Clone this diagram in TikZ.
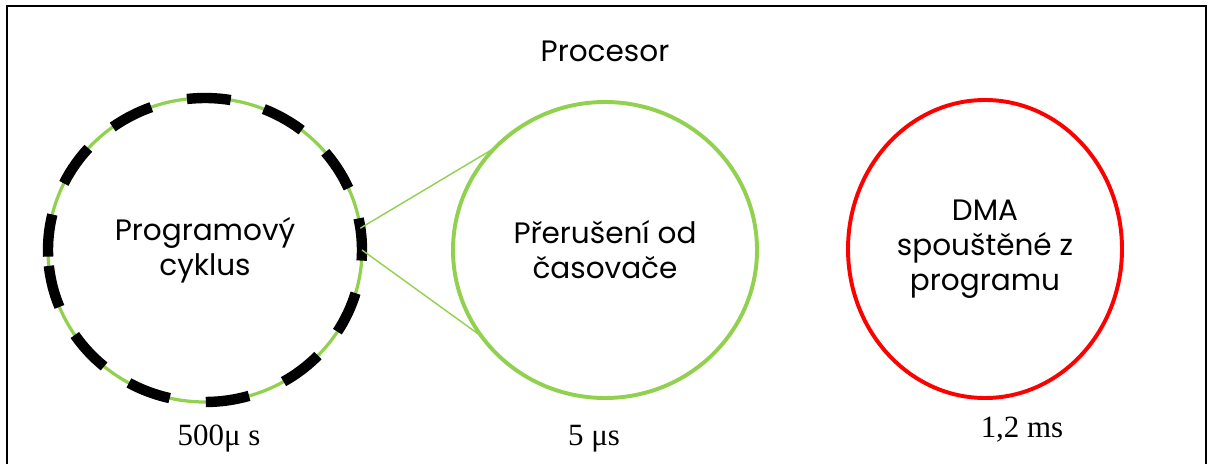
\documentclass[tikz,border=0pt]{standalone}
\usepackage{fontspec}
\setmainfont{Poppins}
\newfontfamily\timesfont{Liberation Serif}
\usetikzlibrary{shapes.geometric}

\definecolor{lightgreen}{RGB}{146,208,80}
\definecolor{alarmred}{RGB}{255,0,0}

\begin{document}
\begin{tikzpicture}[
  phase/.style={ellipse,outer sep=0pt,inner sep=0pt,align=center,
    font=\fontsize{21}{25}\selectfont},
  timing/.style={anchor=base,font=\timesfont\fontsize{22}{26}\selectfont},
  tick/.style={line width=7.4pt,line cap=butt}
]
  % Constants
  \pgfmathsetmacro\rx{3.925}
  \pgfmathsetmacro\ry{3.8}
  % Boundary
  \path[use as bounding box] (0,0) rectangle (30.225,11.6);
  % Frame, open at the bottom
  \draw[line width=1.5pt] (0.175,0) -- (0.175,11.45) -- (30.15,11.45) -- (30.15,0);
  \node[font=\fontsize{21}{25}\selectfont] (cpu) at (15.125,10.32) {Procesor};
  % Phases
  \node[phase,draw=lightgreen,line width=2.3pt,
    minimum width={2*\rx*1cm},minimum height={2*\ry*1cm}] (prog) at (5.125,5.35) {Programový\\cyklus};
  \node[phase,draw=lightgreen,line width=2.8pt,
    minimum width=7.6cm,minimum height=7.4cm] (irq) at (15.125,5.35) {Přerušení od\\časovače};
  \node[phase,draw=alarmred,line width=2.8pt,
    minimum width=6.85cm,minimum height=7.45cm] (dma) at (24.625,5.375) {DMA\\spouštěné z\\programu};
  % Program cycle slices
  \foreach \a in {88.6,60,32,4,-24.5,-52,-81.7,-111,-138,-166,174.5,146,118}
    \draw[tick] ([shift={(\a-8:\rx cm and \ry cm)}]prog.center)
      arc[start angle=\a-8,delta angle=16,x radius=\rx cm,y radius=\ry cm];
  % Zoom onto one slice
  \draw[lightgreen,line width=1pt] (prog.8) -- (irq.137);
  \draw[lightgreen,line width=1pt] (prog.0) -- (irq.215);
  % Durations
  \node[timing] (tprog) at (5.475,0.475) {500μ s};
  \node[timing] (tirq) at (14.85,0.475) {5 μs};
  \node[timing] (tdma) at (25.55,0.675) {1,2 ms};
\end{tikzpicture}
\end{document}
